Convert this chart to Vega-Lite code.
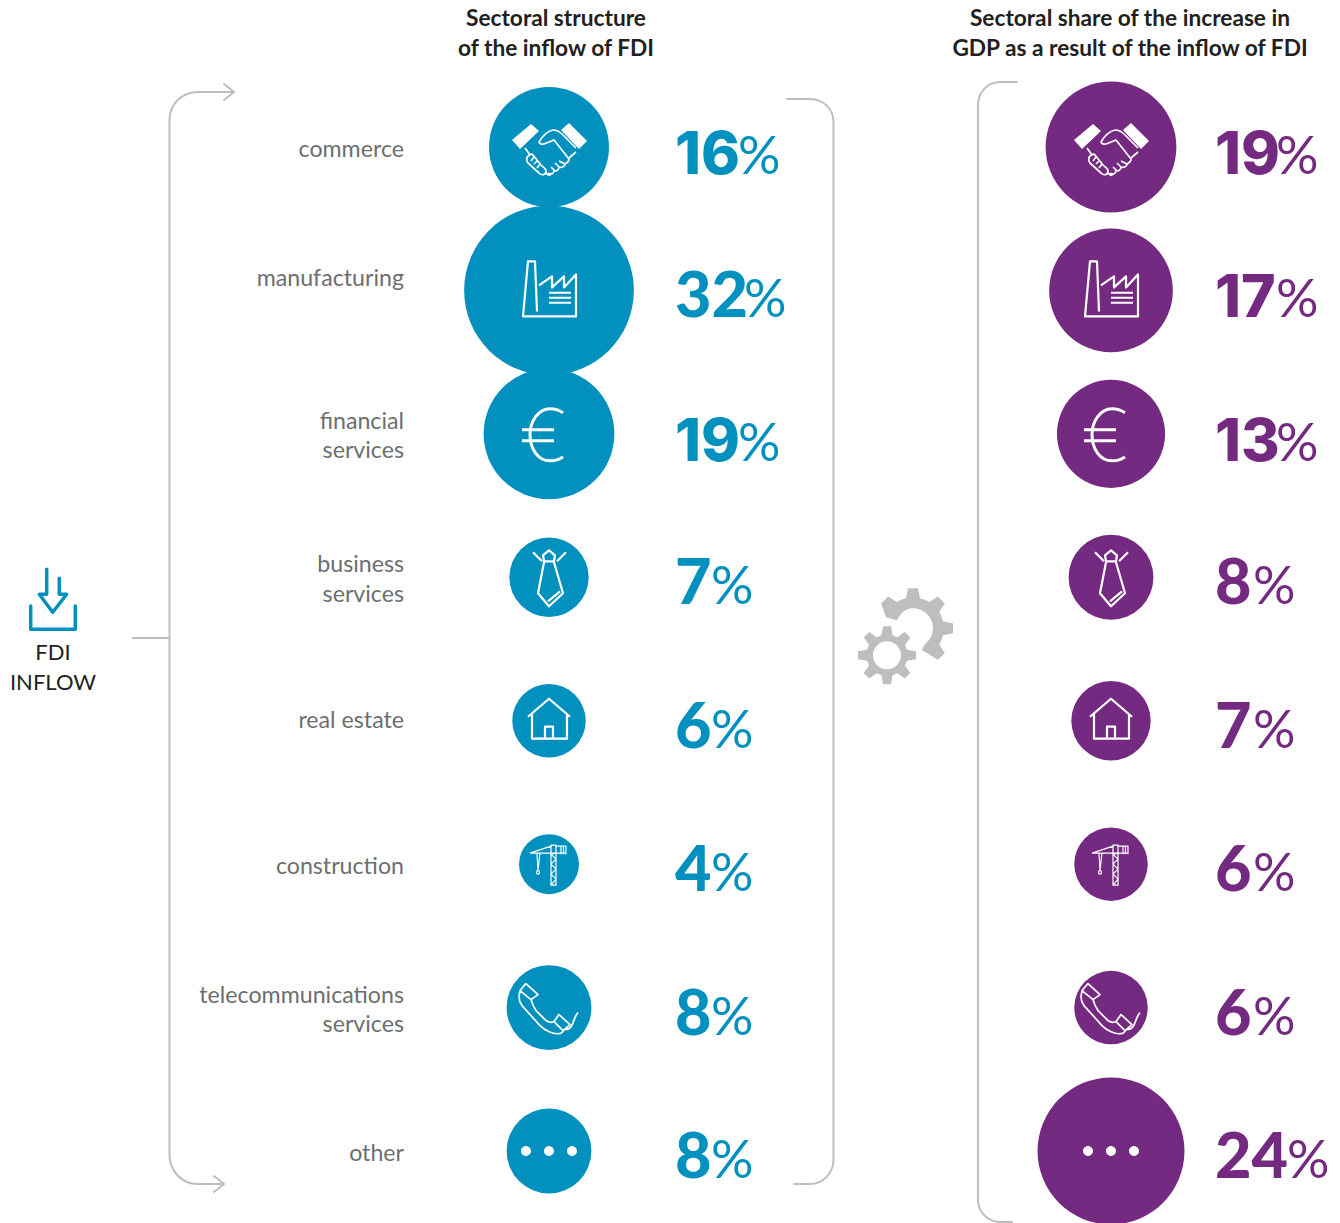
{"$schema":"https://vega.github.io/schema/vega-lite/v6.json","width":1340,"height":1223,"padding":0,"autosize":"none","background":"white","config":{"view":{"stroke":null},"font":"Lato"},
"datasets":{"shares":[
{"sector":"commerce","label":"commerce","panel":"inflow","share":16},
{"sector":"manufacturing","label":"manufacturing","panel":"inflow","share":32},
{"sector":"financial services","label":"financial\nservices","panel":"inflow","share":19},
{"sector":"business services","label":"business\nservices","panel":"inflow","share":7},
{"sector":"real estate","label":"real estate","panel":"inflow","share":6},
{"sector":"construction","label":"construction","panel":"inflow","share":4},
{"sector":"telecommunications services","label":"telecommunications\nservices","panel":"inflow","share":8},
{"sector":"other","label":"other","panel":"inflow","share":8},
{"sector":"commerce","label":"commerce","panel":"gdp","share":19},
{"sector":"manufacturing","label":"manufacturing","panel":"gdp","share":17},
{"sector":"financial services","label":"financial\nservices","panel":"gdp","share":13},
{"sector":"business services","label":"business\nservices","panel":"gdp","share":8},
{"sector":"real estate","label":"real estate","panel":"gdp","share":7},
{"sector":"construction","label":"construction","panel":"gdp","share":6},
{"sector":"telecommunications services","label":"telecommunications\nservices","panel":"gdp","share":6},
{"sector":"other","label":"other","panel":"gdp","share":24}],
"notes":[
{"element":"headerLeft","panel":"inflow","sector":"commerce","text":"Sectoral structure\nof the inflow of FDI"},
{"element":"headerRight","panel":"gdp","sector":"commerce","text":"Sectoral share of the increase in\nGDP as a result of the inflow of FDI"},
{"element":"source","panel":"inflow","sector":"business services","text":"FDI\nINFLOW"}]},
"encoding":{
"x":{"field":"panel","type":"nominal","axis":null,"scale":{"type":"point","domain":["inflow","gdp"],"range":[549,1111],"padding":0}},
"y":{"field":"sector","type":"nominal","axis":null,"scale":{"type":"point","domain":["commerce","manufacturing","financial services","business services","real estate","construction","telecommunications services","other"],"range":[147,1151],"padding":0}}},
"layer":[
{"data":{"name":"notes"},"transform":[{"filter":"datum.element==='headerLeft'"}],
 "mark":{"type":"point","opacity":1,"size":4,"filled":false,"stroke":"#bcbec0","strokeWidth":2,"strokeCap":"round","shape":"M-315,-55 L-351,-55 C-367,-55 -379.5,-43 -379.5,-27 L-379.5,1008 C-379.5,1024 -367,1037 -352,1037 L-325,1037 M-325,-63 L-315,-55 L-325,-47 M-335,1029 L-325,1037 L-335,1045 M-416,491 L-379.5,491 M238,-48 L261,-48 C274,-48 284.5,-38 284.5,-25 L284.5,1013 C284.5,1026 274,1037 261,1037 L245,1037 M468,-65 L451,-65 C439,-65 429,-55 429,-42 L429,1053 C429,1065 439,1075 451,1075 L463,1075"}},
{"data":{"name":"notes"},"transform":[{"filter":"datum.element==='source'"}],
 "mark":{"type":"point","opacity":1,"size":4,"filled":true,"fill":"#bcbec0","stroke":null,"xOffset":338,"yOffset":78,"shape":"M-5.5,-20 L-4,-29 L4,-29 L5.5,-20 L10.3,-18 L17.7,-23.3 L23.3,-17.7 L18,-10.3 L20,-5.5 L29,-4 L29,4 L20,5.5 L18,10.3 L23.3,17.7 L17.7,23.3 L10.3,18 L5.5,20 L4,29 L-4,29 L-5.5,20 L-10.3,18 L-17.7,23.3 L-23.3,17.7 L-18,10.3 L-20,5.5 L-29,4 L-29,-4 L-20,-5.5 L-18,-10.3 L-23.3,-17.7 L-17.7,-23.3 L-10.3,-18 Z M0,-14 C-7.7,-14 -14,-7.7 -14,0 C-14,7.7 -7.7,14 0,14 C7.7,14 14,7.7 14,0 C14,-7.7 7.7,-14 0,-14 Z"}},
{"data":{"name":"notes"},"transform":[{"filter":"datum.element==='source'"}],
 "mark":{"type":"point","opacity":1,"size":4,"filled":true,"fill":"#bcbec0","stroke":null,"xOffset":364,"yOffset":51,"shape":"M-27,-11 L-31.8,-24.8 L-24.8,-31.8 L-16.3,-26.2 Q-12,-29 -7,-30 L-5,-40 L5,-40 L7,-30 Q12,-29 16.3,-26.2 L24.8,-31.8 L31.8,-24.8 L26.2,-16.3 Q29,-12 30,-7 L40,-5 L40,5 L30,7 Q29,12 26.2,16.3 L31.8,24.8 L24.8,31.8 L16.3,26.2 L9,22 L11,17 C17,12 20,6 20,0 C20,-11 11,-20 0,-20 C-7,-20 -12,-16 -16,-8 Z"}},
{"data":{"name":"notes"},"transform":[{"filter":"datum.element==='source'"}],
 "mark":{"type":"point","opacity":1,"size":4,"filled":false,"stroke":"#0291bf","strokeWidth":3.5,"strokeCap":"round","strokeJoin":"round","xOffset":-496,"yOffset":23,"shape":"M-6.3,-31 L-6.3,-6 L-13.7,-6 L-0.3,12 L13.7,-6 L6.3,-6 L6.3,-22 M-22.3,5.7 L-22.3,29 L22.3,29 L22.3,5.7"}},
{"data":{"name":"notes"},"transform":[{"filter":"datum.element==='source'"}],
 "mark":{"type":"text","font":"Lato","fontSize":22,"fill":"#231f20","align":"center","baseline":"middle","lineBreak":"\n","lineHeight":30,"dx":-496,"dy":76},"encoding":{"text":{"field":"text"}}},
{"data":{"name":"notes"},"transform":[{"filter":"datum.element==='headerLeft'"}],
 "mark":{"type":"text","font":"Lato","fontWeight":"bold","fontSize":22.7,"fill":"#231f20","align":"center","baseline":"middle","lineBreak":"\n","lineHeight":30,"dx":7,"dy":-128},"encoding":{"text":{"field":"text"}}},
{"data":{"name":"notes"},"transform":[{"filter":"datum.element==='headerRight'"}],
 "mark":{"type":"text","font":"Lato","fontWeight":"bold","fontSize":22.7,"fill":"#231f20","align":"center","baseline":"middle","lineBreak":"\n","lineHeight":30,"dx":19,"dy":-128},"encoding":{"text":{"field":"text"}}},
{"data":{"name":"shares"},"mark":{"type":"circle","opacity":1},
 "encoding":{"size":{"field":"share","type":"quantitative","legend":null,"scale":{"domain":[0,32],"range":[0,28800]}},"color":{"field":"panel","type":"nominal","legend":null,"scale":{"domain":["inflow","gdp"],"range":["#0291bf","#752a82"]}}}},
{"data":{"name":"shares"},"mark":{"type":"point","filled":false,"opacity":1,"size":4,"stroke":"white","strokeJoin":"round"},
 "encoding":{"strokeWidth":{"condition":[{"test":"datum.sector==='financial services'","value":3},{"test":"datum.sector==='construction'","value":1.2},{"test":"datum.sector==='real estate' || datum.sector==='manufacturing' || datum.sector==='business services'","value":2.2}],"value":1.7},
 "shape":{"field":"sector","type":"nominal","legend":null,"scale":{"domain":["commerce","manufacturing","financial services","business services","real estate","construction","telecommunications services","other"],"range":[
 "M-10,-5 C-7,-11 -1,-16 4,-17 C8,-17 11,-15 13,-13 L27,1 M-10,-5 C-9,-2 -7,-3 -5,-3 L5,-7 L20,12 C20,15 18,16 16,17 L10,14 M20,11 L27,5 M16,17 C16,20 12,21 10,20 L6,16 M10,20 C10,23 7,25 5,23 L2,20 M5,23 C5,27 2,28 -1,26 M-24,1 L-19,8 M-19,8 C-23,9 -23,13 -21,16 L-10,26 C-7,29 -3,28 -3,24 C-3,21 -6,20 -8,18 L-16,8 C-17,7 -18,7 -19,8 M-3,26 C0,30 2,28 2,26 M-15,10 L-18,14 M-12,14 L-15,17 M-9,17 L-12,21",
 "M-12,21 L-14,-29 L-21,-29 L-26,26 L27,26 L27,-16 L15,-3 L15,-14 L3,-3 L3,-14 L-10,-5 M0,2.3 L22,2.3 M0,7.3 L22,7.3 M0,12.3 L22,12.3",
 "M14,-21 C8,-25 3,-25 1,-25 C-11,-25 -19,-12 -19,1 C-19,15 -11,27 1,27 C6,27 10,26 14,23 M-27,-4 L5,-4 M-27,7 L5,7",
 "M-5,-16 L-6,-22 L0,-27 L6,-22 L5,-16 Z M-5,-15 L-11,16 L0,29 L14,16 L5,-15 M-16,-25 L-7,-16 M17,-25 L8,-16 M-1,24 L11,14",
 "M-21,-4 L0,-22 L21,-4 M-17,-7 L-17,18 L18,18 L18,-7 M-4,18 L-4,6 L4,6 L4,18",
 "M2,21 L2,-19 L7,-19 L7,21 Z M2,21 L7,15 L2,10 L7,5 L2,0 L7,-5 L2,-10 L7,-11 M-19,-11 L2,-18 M-19,-11 L17,-11 M7,-18 L17,-18 L17,-10 M12,-18 L12,-10 M14.5,-18 L14.5,-10 M-12,-11 L-11,6 L-9,-11 M-11,6 C-13,7 -13,10 -11,10 C-9,10 -9,7 -11,6",
 "M-29,-17 L-23,-24 L-11,-13 L-18,-8 Z M-29,-16 C-31,-10 -30,-6 -27,-2 L-9,18 C-4,23 4,27 10,26 C12,26 14,24 15,22 M-18,-8 C-17,-4 -15,0 -13,3 L-3,13 C0,15 3,15 5,14 M5,14 L10,7 L21,17 L14,23 Z M16,22 C25,22 23,12 29,5",
 "M0,0"]}}}},
{"data":{"name":"shares"},"transform":[{"filter":"datum.sector==='commerce'"}],"mark":{"type":"point","opacity":1,"size":4,"filled":true,"fill":"white","stroke":null,"shape":"M-37,-7 L-18,-23 L-10,-16 L-29,2 Z M12,-17 L20,-24 L38,-6 L30,2 Z"}},
{"data":{"name":"shares"},"transform":[{"filter":"datum.sector==='other'"}],"mark":{"type":"point","opacity":1,"size":4,"filled":true,"fill":"white","stroke":null,"shape":"M-28,0 C-28,-2.6 -25.6,-5 -23,-5 C-20.4,-5 -18,-2.6 -18,0 C-18,2.6 -20.4,5 -23,5 C-25.6,5 -28,2.6 -28,0 Z M-5,0 C-5,-2.6 -2.6,-5 0,-5 C2.6,-5 5,-2.6 5,0 C5,2.6 2.6,5 0,5 C-2.6,5 -5,2.6 -5,0 Z M18,0 C18,-2.6 20.4,-5 23,-5 C25.6,-5 28,-2.6 28,0 C28,2.6 25.6,5 23,5 C20.4,5 18,2.6 18,0 Z"}},
{"data":{"name":"shares"},"transform":[{"filter":"datum.panel==='inflow' && indexof(datum.label,'\\n')<0 && datum.sector!=='manufacturing' && datum.sector!=='real estate'"}],"mark":{"type":"text","font":"Lato","fontSize":23.2,"fill":"#6d6e70","align":"right","baseline":"middle","dx":-145,"dy":3},"encoding":{"text":{"field":"label"}}},
{"data":{"name":"shares"},"transform":[{"filter":"datum.panel==='inflow' && datum.sector==='real estate'"}],"mark":{"type":"text","font":"Lato","fontSize":23.2,"fill":"#6d6e70","align":"right","baseline":"middle","dx":-145,"dy":0},"encoding":{"text":{"field":"label"}}},
{"data":{"name":"shares"},"transform":[{"filter":"datum.panel==='inflow' && indexof(datum.label,'\\n')>=0"}],"mark":{"type":"text","font":"Lato","fontSize":23.2,"fill":"#6d6e70","align":"right","baseline":"middle","lineBreak":"\n","lineHeight":29.5,"dx":-145,"dy":-12},"encoding":{"text":{"field":"label"}}},
{"data":{"name":"shares"},"transform":[{"filter":"datum.panel==='inflow' && datum.sector==='manufacturing'"}],"mark":{"type":"text","font":"Lato","fontSize":23.2,"fill":"#6d6e70","align":"right","baseline":"middle","dx":-145,"dy":-11},"encoding":{"text":{"field":"label"}}},
{"data":{"name":"shares"},"transform":[{"filter":"datum.panel==='inflow' && (datum.share<10 || datum.share>=20)"}],"mark":{"type":"text","font":"Lato","fontWeight":900,"fontSize":63,"fill":"#0291bf","align":"left","baseline":"alphabetic","dx":126,"dy":27},"encoding":{"text":{"field":"share","type":"quantitative"}}},
{"data":{"name":"shares"},"transform":[{"filter":"datum.panel==='gdp' && (datum.share<10 || datum.share>=20)"}],"mark":{"type":"text","font":"Lato","fontWeight":900,"fontSize":63,"fill":"#752a82","align":"left","baseline":"alphabetic","dx":104,"dy":27},"encoding":{"text":{"field":"share","type":"quantitative"}}},
{"data":{"name":"shares"},"transform":[{"filter":"datum.panel==='inflow' && datum.share>=10 && datum.share<20"}],"mark":{"type":"text","font":"Inter","fontWeight":800,"fontSize":59,"fill":"#0291bf","align":"left","baseline":"alphabetic","dx":126,"dy":27},"encoding":{"text":{"field":"share","type":"quantitative"}}},
{"data":{"name":"shares"},"transform":[{"filter":"datum.panel==='gdp' && datum.share>=10 && datum.share<20"}],"mark":{"type":"text","font":"Inter","fontWeight":800,"fontSize":59,"fill":"#752a82","align":"left","baseline":"alphabetic","dx":104,"dy":27},"encoding":{"text":{"field":"share","type":"quantitative"}}},
{"data":{"name":"shares"},"transform":[{"filter":"datum.panel==='inflow' && datum.share<10"}],"mark":{"type":"text","text":"%","font":"Lato","fontSize":53,"fill":"#0291bf","align":"left","baseline":"alphabetic","dx":162,"dy":27}},
{"data":{"name":"shares"},"transform":[{"filter":"datum.panel==='inflow' && datum.share>=10 && datum.share<30"}],"mark":{"type":"text","text":"%","font":"Lato","fontSize":53,"fill":"#0291bf","align":"left","baseline":"alphabetic","dx":189,"dy":27}},
{"data":{"name":"shares"},"transform":[{"filter":"datum.panel==='inflow' && datum.share>=30"}],"mark":{"type":"text","text":"%","font":"Lato","fontSize":53,"fill":"#0291bf","align":"left","baseline":"alphabetic","dx":195,"dy":27}},
{"data":{"name":"shares"},"transform":[{"filter":"datum.panel==='gdp' && datum.share<10"}],"mark":{"type":"text","text":"%","font":"Lato","fontSize":53,"fill":"#752a82","align":"left","baseline":"alphabetic","dx":142,"dy":27}},
{"data":{"name":"shares"},"transform":[{"filter":"datum.panel==='gdp' && datum.share>=10 && datum.share<24"}],"mark":{"type":"text","text":"%","font":"Lato","fontSize":53,"fill":"#752a82","align":"left","baseline":"alphabetic","dx":165,"dy":27}},
{"data":{"name":"shares"},"transform":[{"filter":"datum.panel==='gdp' && datum.share>=24"}],"mark":{"type":"text","text":"%","font":"Lato","fontSize":53,"fill":"#752a82","align":"left","baseline":"alphabetic","dx":176,"dy":27}}
]}
